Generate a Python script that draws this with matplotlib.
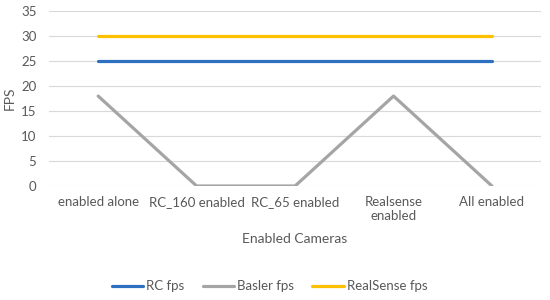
import matplotlib.pyplot as plt

plt.rcParams['font.family'] = ['Lato', 'DejaVu Sans']

categories = ['enabled alone', 'RC_160 enabled', 'RC_65 enabled', 'Realsense\nenabled', 'All enabled']
rc_fps = [25, 25, 25, 25, 25]
basler_fps = [18, 0, 0, 18, 0]
realsense_fps = [30, 30, 30, 30, 30]
y_ticks = [0, 5, 10, 15, 20, 25, 30, 35]

fig = plt.figure(figsize=(5.5, 3), dpi=100)
ax = fig.add_axes([0.089, 0.38, 0.895, 0.583])

x = range(len(categories))
ax.plot(x, rc_fps, color='#2E70C0', lw=2.3, label='RC fps', solid_capstyle='round')
ax.plot(x, basler_fps, color='#A5A5A5', lw=2.3, label='Basler fps', solid_capstyle='round')
ax.plot(x, realsense_fps, color='#FFC000', lw=2.3, label='RealSense fps', solid_capstyle='round')

ax.set_xlim(-0.5, len(categories) - 0.5)
ax.set_ylim(0, 35)
ax.set_yticks(y_ticks)
ax.set_xticks(list(x))
ax.set_xticklabels(categories)
ax.grid(axis='y', color='#D9D9D9', lw=0.8)
ax.set_axisbelow(True)
for s in ax.spines.values():
    s.set_visible(False)
ax.tick_params(length=0, labelsize=9.5, labelcolor='#595959', pad=7)
ax.tick_params(axis='y', pad=9)

ax.set_xlabel('Enabled Cameras', fontsize=10, color='#595959', labelpad=8)
ax.set_ylabel('FPS', fontsize=10, color='#595959')
ax.yaxis.set_label_coords(-0.068, 0.5)

fig.legend(loc='center', bbox_to_anchor=(0.49, 0.045), ncol=3, frameon=False,
           fontsize=9.5, labelcolor='#595959', handlelength=2.4, handletextpad=0.2,
           columnspacing=1.4)

fig.savefig('out.png', dpi=100)
